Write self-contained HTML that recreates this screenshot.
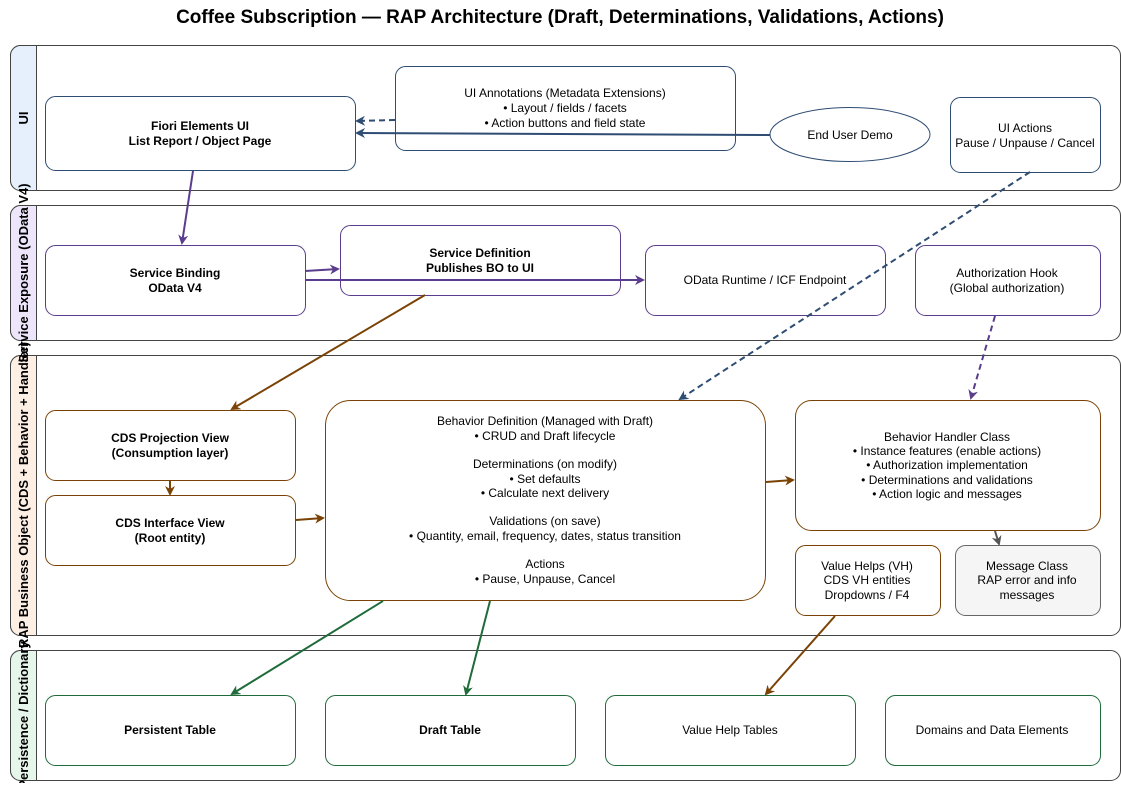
<!DOCTYPE html>
<html><head><meta charset="utf-8"><style>
body{margin:0;background:#fff;}
svg text{font-family:"Liberation Sans",Arial,sans-serif;}
</style></head><body>
<svg width="1121" height="783" viewBox="0 0 1121 783" xmlns="http://www.w3.org/2000/svg">
<defs>
<marker id="aB" markerWidth="10" markerHeight="10" refX="8" refY="5" orient="auto" markerUnits="userSpaceOnUse"><path d="M0,0 L10,5 L0,10 L3,5 z" fill="#2f4c73"/></marker>
<marker id="aP" markerWidth="10" markerHeight="10" refX="8" refY="5" orient="auto" markerUnits="userSpaceOnUse"><path d="M0,0 L10,5 L0,10 L3,5 z" fill="#5a3d8c"/></marker>
<marker id="aO" markerWidth="10" markerHeight="10" refX="8" refY="5" orient="auto" markerUnits="userSpaceOnUse"><path d="M0,0 L10,5 L0,10 L3,5 z" fill="#7a4305"/></marker>
<marker id="aG" markerWidth="10" markerHeight="10" refX="8" refY="5" orient="auto" markerUnits="userSpaceOnUse"><path d="M0,0 L10,5 L0,10 L3,5 z" fill="#1f6b3a"/></marker>
<marker id="aK" markerWidth="10" markerHeight="10" refX="8" refY="5" orient="auto" markerUnits="userSpaceOnUse"><path d="M0,0 L10,5 L0,10 L3,5 z" fill="#555"/></marker>
</defs>
<text x="560" y="23" text-anchor="middle" font-size="19" font-weight="bold" fill="#000">Coffee Subscription — RAP Architecture (Draft, Determinations, Validations, Actions)</text>

<!-- lanes -->
<g stroke="#444" stroke-width="1">
<rect x="10.5" y="45.5" width="1110" height="145" rx="10" fill="#fff"/>
<path d="M36.5,45.5 H20.5 a10,10 0 0 0 -10,10 V180.5 a10,10 0 0 0 10,10 H36.5 z" fill="#e6f0fc"/>
<line x1="36.5" y1="45.5" x2="36.5" y2="190.5"/>
<rect x="10.5" y="205.5" width="1110" height="135" rx="10" fill="#fff"/>
<path d="M36.5,205.5 H20.5 a10,10 0 0 0 -10,10 V330.5 a10,10 0 0 0 10,10 H36.5 z" fill="#ede6fb"/>
<rect x="10.5" y="355.5" width="1110" height="280" rx="10" fill="#fff"/>
<path d="M36.5,355.5 H20.5 a10,10 0 0 0 -10,10 V625.5 a10,10 0 0 0 10,10 H36.5 z" fill="#fdefe4"/>
<rect x="10.5" y="650.5" width="1110" height="130" rx="10" fill="#fff"/>
<path d="M36.5,650.5 H20.5 a10,10 0 0 0 -10,10 V770.5 a10,10 0 0 0 10,10 H36.5 z" fill="#e7f6ea"/>
</g>
<g font-size="13" font-weight="bold" fill="#000" text-anchor="middle">
<text transform="translate(28,118) rotate(-90)">UI</text>
<text transform="translate(28,273) rotate(-90)">Service Exposure (OData V4)</text>
<text transform="translate(28,495) rotate(-90)">RAP Business Object (CDS + Behavior + Handler)</text>
<text transform="translate(28,715) rotate(-90)">Persistence / Dictionary</text>
</g>

<!-- nodes -->
<g fill="#fff" stroke-width="1">
<rect x="45.5" y="96.5" width="310" height="74" rx="10" stroke="#2f4c73"/>
<rect x="395.5" y="66.5" width="340" height="84" rx="10" stroke="#2f4c73"/>
<ellipse cx="850" cy="134.5" rx="80" ry="27" stroke="#2f4c73"/>
<rect x="950.5" y="97.5" width="150" height="75" rx="10" stroke="#2f4c73"/>
<rect x="45.5" y="245.5" width="260" height="70" rx="10" stroke="#5a3d8c"/>
<rect x="340.5" y="225.5" width="280" height="70" rx="10" stroke="#5a3d8c"/>
<rect x="645.5" y="245.5" width="240" height="70" rx="10" stroke="#5a3d8c"/>
<rect x="915.5" y="245.5" width="185" height="70" rx="10" stroke="#5a3d8c"/>
<rect x="45.5" y="410.5" width="250" height="70" rx="10" stroke="#7a4305"/>
<rect x="45.5" y="495.5" width="250" height="70" rx="10" stroke="#7a4305"/>
<rect x="325.5" y="400.5" width="440" height="200" rx="25" stroke="#7a4305"/>
<rect x="795.5" y="400.5" width="305" height="130" rx="16" stroke="#7a4305"/>
<rect x="795.5" y="545.5" width="145" height="70" rx="10" stroke="#7a4305"/>
<rect x="955.5" y="545.5" width="145" height="70" rx="10" stroke="#666" fill="#f5f5f5"/>
<rect x="45.5" y="695.5" width="250" height="70" rx="10" stroke="#1f6b3a"/>
<rect x="325.5" y="695.5" width="250" height="70" rx="10" stroke="#1f6b3a"/>
<rect x="605.5" y="695.5" width="250" height="70" rx="10" stroke="#1f6b3a"/>
<rect x="885.5" y="695.5" width="215" height="70" rx="10" stroke="#1f6b3a"/>
</g>

<!-- edges -->
<g fill="none" stroke-width="2">
<line x1="395" y1="120" x2="357" y2="121" stroke="#2f4c73" stroke-dasharray="6,4" marker-end="url(#aB)"/>
<line x1="770" y1="135" x2="357" y2="133" stroke="#2f4c73" marker-end="url(#aB)"/>
<line x1="193" y1="171" x2="182" y2="243" stroke="#5a3d8c" marker-end="url(#aP)"/>
<line x1="305" y1="271" x2="338" y2="269" stroke="#5a3d8c" marker-end="url(#aP)"/>
<line x1="305" y1="280" x2="643" y2="280" stroke="#5a3d8c" marker-end="url(#aP)"/>
<line x1="425" y1="295" x2="232" y2="409" stroke="#7a4305" marker-end="url(#aO)"/>
<line x1="1030" y1="172" x2="680" y2="399" stroke="#2f4c73" stroke-dasharray="6,4" marker-end="url(#aB)"/>
<line x1="995" y1="316" x2="971" y2="398" stroke="#5a3d8c" stroke-dasharray="6,4" marker-end="url(#aP)"/>
<line x1="170" y1="481" x2="170" y2="494" stroke="#7a4305" marker-end="url(#aO)"/>
<line x1="296" y1="520" x2="323" y2="518" stroke="#7a4305" marker-end="url(#aO)"/>
<line x1="766" y1="482" x2="793" y2="480" stroke="#7a4305" marker-end="url(#aO)"/>
<line x1="995" y1="531" x2="999" y2="544" stroke="#555" marker-end="url(#aK)"/>
<line x1="383" y1="601" x2="232" y2="694" stroke="#1f6b3a" marker-end="url(#aG)"/>
<line x1="490" y1="601" x2="466" y2="694" stroke="#1f6b3a" marker-end="url(#aG)"/>
<line x1="835" y1="616" x2="766" y2="694" stroke="#7a4305" marker-end="url(#aO)"/>
</g>

<!-- labels -->
<g font-size="12" fill="#000" text-anchor="middle">
<g font-weight="bold">
<text x="200" y="130">Fiori Elements UI</text>
<text x="200" y="145">List Report / Object Page</text>
<text x="175" y="277">Service Binding</text>
<text x="175" y="292">OData V4</text>
<text x="480" y="257">Service Definition</text>
<text x="480" y="272">Publishes BO to UI</text>
<text x="170" y="442">CDS Projection View</text>
<text x="170" y="457">(Consumption layer)</text>
<text x="170" y="527">CDS Interface View</text>
<text x="170" y="542">(Root entity)</text>
<text x="170" y="734">Persistent Table</text>
<text x="450" y="734">Draft Table</text>
</g>
<text x="565" y="97">UI Annotations (Metadata Extensions)</text>
<text x="565" y="112">• Layout / fields / facets</text>
<text x="565" y="127">• Action buttons and field state</text>
<text x="850" y="139">End User Demo</text>
<text x="1025" y="132">UI Actions</text>
<text x="1025" y="147">Pause / Unpause / Cancel</text>
<text x="765" y="284">OData Runtime / ICF Endpoint</text>
<text x="1007" y="277">Authorization Hook</text>
<text x="1007" y="292">(Global authorization)</text>
<text x="545" y="425">Behavior Definition (Managed with Draft)</text>
<text x="545" y="440">• CRUD and Draft lifecycle</text>
<text x="545" y="468">Determinations (on modify)</text>
<text x="545" y="483">• Set defaults</text>
<text x="545" y="497">• Calculate next delivery</text>
<text x="545" y="525">Validations (on save)</text>
<text x="545" y="540">• Quantity, email, frequency, dates, status transition</text>
<text x="545" y="568">Actions</text>
<text x="545" y="583">• Pause, Unpause, Cancel</text>
<text x="947" y="441">Behavior Handler Class</text>
<text x="947" y="455">• Instance features (enable actions)</text>
<text x="947" y="469">• Authorization implementation</text>
<text x="947" y="484">• Determinations and validations</text>
<text x="947" y="498">• Action logic and messages</text>
<text x="867" y="570">Value Helps (VH)</text>
<text x="867" y="584">CDS VH entities</text>
<text x="867" y="599">Dropdowns / F4</text>
<text x="1027" y="570">Message Class</text>
<text x="1027" y="584">RAP error and info</text>
<text x="1027" y="599">messages</text>
<text x="730" y="734">Value Help Tables</text>
<text x="992" y="734">Domains and Data Elements</text>
</g>
</svg>
</body></html>
